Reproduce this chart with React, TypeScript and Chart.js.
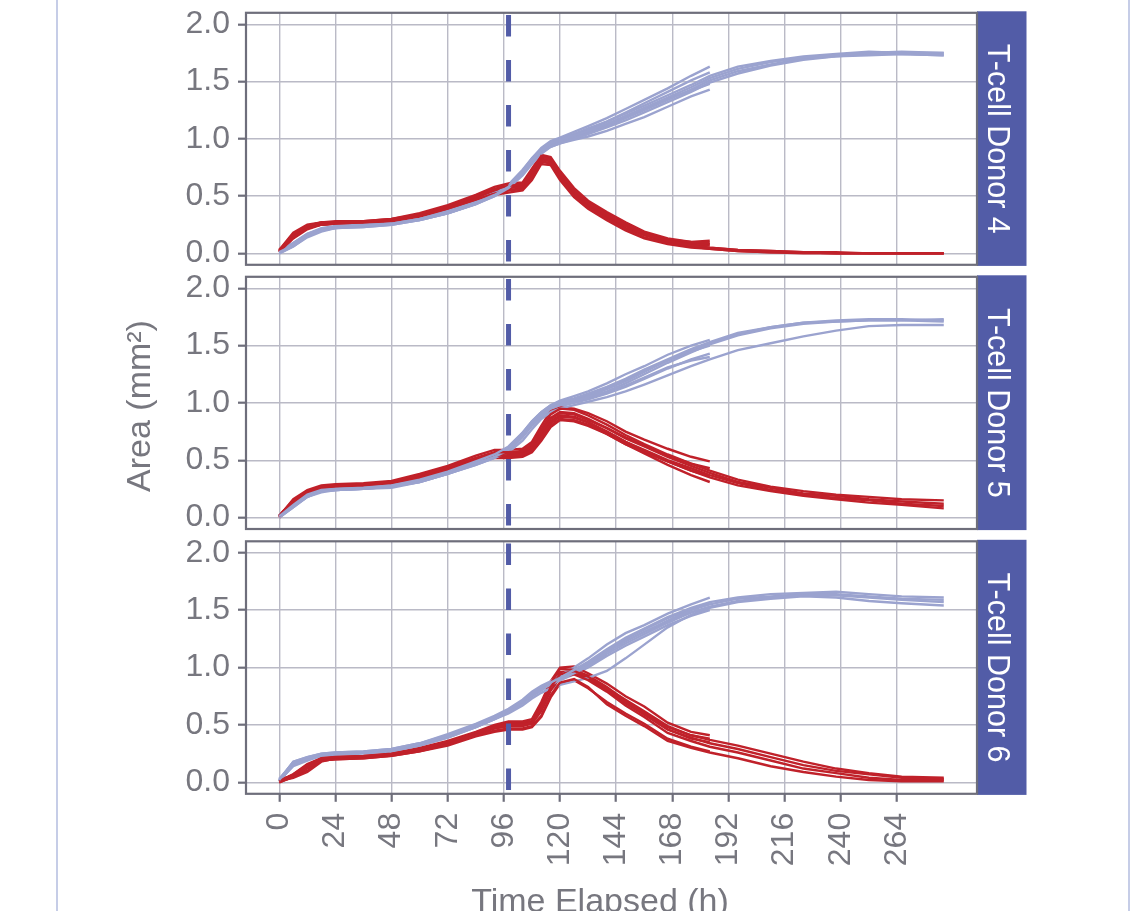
import React, { useEffect, useRef } from "react";
import { Chart, registerables } from "chart.js";

Chart.register(...registerables);

// ---------- data ----------
// sampling times (h); long tracks use all, short tracks stop at 184 h
const TIMES = [0, 6, 12, 18, 24, 36, 48, 60, 72, 84, 92, 98, 104, 108, 112, 116, 120, 126, 132, 140, 148, 156, 166, 176, 184, 196, 210, 224, 238, 252, 266, 284];
const X_TICKS = [0, 24, 48, 72, 96, 120, 144, 168, 192, 216, 240, 264];
const Y_TICKS = [0, 0.5, 1.0, 1.5, 2.0];
const VLINE_T = 98;
const PANEL_LABELS = ["T-cell Donor 4", "T-cell Donor 5", "T-cell Donor 6"];
const X_TITLE = "Time Elapsed (h)";
const Y_TITLE = "Area (mm\u00B2)";

// Donor 4 - red (with T cells)
const d4_red_1 = [0.02, 0.17, 0.24, 0.27, 0.28, 0.28, 0.30, 0.34, 0.41, 0.50, 0.56, 0.59, 0.60, 0.72, 0.85, 0.82, 0.70, 0.55, 0.44, 0.34, 0.25, 0.17, 0.11, 0.07, 0.05, 0.03, 0.02, 0.01, 0.01, 0.00, 0.00, 0.00];
const d4_red_2 = [0.01, 0.14, 0.22, 0.25, 0.26, 0.27, 0.28, 0.32, 0.39, 0.47, 0.52, 0.55, 0.56, 0.66, 0.80, 0.79, 0.66, 0.50, 0.40, 0.30, 0.21, 0.14, 0.09, 0.06, 0.04, 0.02, 0.01, 0.01, 0.00, 0.00, 0.00, 0.00];
const d4_red_3 = [0.03, 0.18, 0.25, 0.27, 0.27, 0.27, 0.29, 0.33, 0.40, 0.49, 0.55, 0.57, 0.58, 0.69, 0.84, 0.83, 0.69, 0.53, 0.43, 0.33, 0.24, 0.16, 0.10, 0.07, 0.05, 0.03, 0.02, 0.01, 0.00, 0.00, 0.00, 0.00];
const d4_red_4 = [0.02, 0.15, 0.23, 0.26, 0.27, 0.26, 0.28, 0.31, 0.38, 0.46, 0.51, 0.53, 0.55, 0.64, 0.78, 0.77, 0.64, 0.49, 0.39, 0.29, 0.20, 0.13, 0.08, 0.05, 0.04, 0.02, 0.01, 0.00, 0.00, 0.00, 0.00, 0.00];
const d4_red_s1 = [0.02, 0.16, 0.24, 0.27, 0.27, 0.28, 0.30, 0.35, 0.42, 0.51, 0.58, 0.61, 0.62, 0.74, 0.86, 0.84, 0.72, 0.57, 0.46, 0.36, 0.27, 0.19, 0.13, 0.10, 0.09];
const d4_red_s2 = [0.01, 0.13, 0.21, 0.25, 0.26, 0.26, 0.28, 0.32, 0.38, 0.46, 0.52, 0.55, 0.57, 0.68, 0.82, 0.81, 0.68, 0.52, 0.42, 0.32, 0.24, 0.17, 0.12, 0.10, 0.11];
const d4_red_s3 = [0.02, 0.17, 0.24, 0.26, 0.27, 0.27, 0.29, 0.34, 0.41, 0.49, 0.56, 0.60, 0.61, 0.71, 0.83, 0.80, 0.66, 0.51, 0.41, 0.31, 0.22, 0.16, 0.11, 0.08, 0.07];
const d4_red_s4 = [0.03, 0.15, 0.22, 0.25, 0.26, 0.27, 0.29, 0.33, 0.40, 0.48, 0.54, 0.58, 0.59, 0.70, 0.81, 0.78, 0.67, 0.54, 0.45, 0.35, 0.26, 0.18, 0.12, 0.09, 0.08];
// Donor 4 - blue (tumour only)
const d4_blue_1 = [0.01, 0.07, 0.15, 0.20, 0.22, 0.24, 0.26, 0.30, 0.36, 0.44, 0.51, 0.58, 0.71, 0.81, 0.90, 0.96, 0.99, 1.03, 1.07, 1.13, 1.20, 1.27, 1.36, 1.45, 1.53, 1.61, 1.67, 1.71, 1.73, 1.75, 1.76, 1.75];
const d4_blue_2 = [0.00, 0.06, 0.14, 0.19, 0.22, 0.23, 0.25, 0.29, 0.35, 0.43, 0.50, 0.57, 0.68, 0.78, 0.87, 0.93, 0.96, 1.00, 1.04, 1.10, 1.16, 1.23, 1.32, 1.41, 1.49, 1.57, 1.64, 1.69, 1.72, 1.73, 1.74, 1.73];
const d4_blue_3 = [0.02, 0.09, 0.17, 0.22, 0.24, 0.25, 0.27, 0.31, 0.37, 0.45, 0.52, 0.59, 0.72, 0.82, 0.91, 0.97, 1.00, 1.04, 1.09, 1.15, 1.22, 1.29, 1.38, 1.47, 1.55, 1.63, 1.68, 1.72, 1.74, 1.76, 1.75, 1.75];
const d4_blue_4 = [0.01, 0.08, 0.16, 0.21, 0.23, 0.24, 0.26, 0.30, 0.36, 0.44, 0.51, 0.58, 0.69, 0.79, 0.88, 0.94, 0.97, 1.01, 1.05, 1.11, 1.18, 1.25, 1.34, 1.43, 1.51, 1.59, 1.65, 1.70, 1.72, 1.74, 1.74, 1.73];
const d4_blue_s1 = [0.01, 0.07, 0.15, 0.20, 0.23, 0.24, 0.26, 0.30, 0.37, 0.45, 0.52, 0.59, 0.72, 0.83, 0.92, 0.98, 1.01, 1.06, 1.11, 1.18, 1.26, 1.34, 1.44, 1.55, 1.63];
const d4_blue_s2 = [0.00, 0.06, 0.15, 0.20, 0.22, 0.23, 0.25, 0.29, 0.35, 0.43, 0.50, 0.57, 0.69, 0.79, 0.88, 0.93, 0.96, 0.99, 1.02, 1.07, 1.13, 1.19, 1.28, 1.37, 1.43];
const d4_blue_s3 = [0.02, 0.09, 0.17, 0.21, 0.23, 0.25, 0.27, 0.31, 0.37, 0.46, 0.53, 0.60, 0.73, 0.83, 0.91, 0.96, 0.99, 1.04, 1.08, 1.15, 1.23, 1.31, 1.41, 1.51, 1.58];
const d4_blue_s4 = [0.01, 0.08, 0.16, 0.21, 0.23, 0.24, 0.26, 0.29, 0.35, 0.43, 0.51, 0.58, 0.70, 0.80, 0.89, 0.95, 0.98, 1.02, 1.06, 1.12, 1.19, 1.26, 1.35, 1.42, 1.48];

// Donor 5 - red
const d5_red_1 = [0.01, 0.15, 0.23, 0.27, 0.28, 0.29, 0.31, 0.37, 0.44, 0.52, 0.57, 0.57, 0.58, 0.64, 0.77, 0.90, 0.95, 0.94, 0.89, 0.81, 0.72, 0.64, 0.55, 0.47, 0.41, 0.33, 0.27, 0.23, 0.20, 0.18, 0.16, 0.15];
const d5_red_2 = [0.00, 0.12, 0.21, 0.26, 0.27, 0.28, 0.30, 0.35, 0.42, 0.50, 0.54, 0.54, 0.55, 0.59, 0.70, 0.82, 0.88, 0.87, 0.83, 0.75, 0.66, 0.59, 0.50, 0.43, 0.37, 0.30, 0.24, 0.20, 0.17, 0.15, 0.12, 0.10];
const d5_red_3 = [0.02, 0.14, 0.22, 0.27, 0.28, 0.29, 0.31, 0.36, 0.43, 0.51, 0.55, 0.56, 0.56, 0.62, 0.74, 0.86, 0.91, 0.90, 0.85, 0.78, 0.69, 0.62, 0.53, 0.45, 0.39, 0.31, 0.26, 0.21, 0.19, 0.16, 0.14, 0.12];
const d5_red_4 = [0.01, 0.13, 0.22, 0.26, 0.28, 0.28, 0.30, 0.35, 0.42, 0.49, 0.53, 0.53, 0.54, 0.58, 0.68, 0.80, 0.86, 0.85, 0.81, 0.73, 0.64, 0.57, 0.49, 0.41, 0.35, 0.28, 0.23, 0.19, 0.16, 0.13, 0.11, 0.08];
const d5_red_s1 = [0.01, 0.16, 0.24, 0.28, 0.29, 0.30, 0.32, 0.38, 0.45, 0.54, 0.59, 0.59, 0.60, 0.66, 0.80, 0.93, 0.96, 0.95, 0.91, 0.84, 0.75, 0.68, 0.60, 0.53, 0.49];
const d5_red_s2 = [0.00, 0.13, 0.21, 0.26, 0.27, 0.28, 0.29, 0.34, 0.41, 0.48, 0.52, 0.52, 0.53, 0.57, 0.67, 0.79, 0.85, 0.84, 0.80, 0.73, 0.64, 0.56, 0.46, 0.37, 0.31];
const d5_red_s3 = [0.02, 0.15, 0.23, 0.27, 0.28, 0.29, 0.31, 0.36, 0.43, 0.51, 0.56, 0.57, 0.57, 0.63, 0.75, 0.87, 0.92, 0.91, 0.86, 0.78, 0.70, 0.63, 0.54, 0.47, 0.43];
const d5_red_s4 = [0.01, 0.14, 0.22, 0.26, 0.27, 0.28, 0.30, 0.35, 0.42, 0.50, 0.54, 0.55, 0.55, 0.61, 0.72, 0.84, 0.89, 0.88, 0.83, 0.75, 0.66, 0.58, 0.49, 0.41, 0.36];
// Donor 5 - blue
const d5_blue_1 = [0.01, 0.11, 0.20, 0.24, 0.25, 0.26, 0.28, 0.33, 0.40, 0.49, 0.55, 0.62, 0.74, 0.84, 0.92, 0.98, 1.01, 1.04, 1.08, 1.14, 1.21, 1.29, 1.38, 1.47, 1.53, 1.61, 1.66, 1.70, 1.72, 1.73, 1.73, 1.72];
const d5_blue_2 = [0.00, 0.09, 0.18, 0.23, 0.24, 0.25, 0.27, 0.31, 0.38, 0.47, 0.53, 0.59, 0.71, 0.81, 0.89, 0.95, 0.98, 1.01, 1.05, 1.10, 1.17, 1.25, 1.35, 1.44, 1.51, 1.59, 1.65, 1.69, 1.71, 1.72, 1.72, 1.71];
const d5_blue_3 = [0.02, 0.11, 0.19, 0.23, 0.25, 0.26, 0.28, 0.32, 0.39, 0.48, 0.54, 0.60, 0.73, 0.83, 0.91, 0.97, 1.00, 1.03, 1.06, 1.12, 1.19, 1.27, 1.37, 1.46, 1.52, 1.60, 1.66, 1.70, 1.71, 1.72, 1.72, 1.73];
const d5_blue_4 = [0.01, 0.10, 0.18, 0.22, 0.24, 0.25, 0.26, 0.31, 0.38, 0.46, 0.52, 0.57, 0.67, 0.77, 0.86, 0.92, 0.95, 0.98, 1.01, 1.05, 1.10, 1.16, 1.24, 1.32, 1.38, 1.46, 1.52, 1.58, 1.63, 1.67, 1.68, 1.68];
const d5_blue_s1 = [0.01, 0.10, 0.19, 0.23, 0.25, 0.26, 0.27, 0.32, 0.39, 0.48, 0.54, 0.61, 0.74, 0.84, 0.92, 0.98, 1.02, 1.06, 1.10, 1.17, 1.25, 1.32, 1.42, 1.50, 1.55];
const d5_blue_s2 = [0.00, 0.09, 0.18, 0.23, 0.24, 0.25, 0.27, 0.31, 0.38, 0.46, 0.52, 0.58, 0.70, 0.80, 0.88, 0.94, 0.97, 1.00, 1.03, 1.08, 1.14, 1.21, 1.30, 1.38, 1.43];
const d5_blue_s3 = [0.02, 0.11, 0.20, 0.24, 0.25, 0.26, 0.28, 0.33, 0.40, 0.48, 0.55, 0.61, 0.73, 0.83, 0.90, 0.96, 0.99, 1.03, 1.07, 1.13, 1.20, 1.28, 1.37, 1.45, 1.50];
const d5_blue_s4 = [0.01, 0.10, 0.19, 0.23, 0.24, 0.25, 0.27, 0.32, 0.39, 0.47, 0.53, 0.59, 0.71, 0.81, 0.89, 0.95, 0.98, 1.01, 1.04, 1.09, 1.15, 1.22, 1.31, 1.37, 1.40];

// Donor 6 - red
const d6_red_1 = [0.01, 0.07, 0.15, 0.21, 0.22, 0.23, 0.25, 0.29, 0.35, 0.43, 0.48, 0.50, 0.50, 0.52, 0.64, 0.83, 0.94, 0.97, 0.92, 0.82, 0.70, 0.60, 0.46, 0.39, 0.34, 0.29, 0.22, 0.15, 0.10, 0.07, 0.04, 0.03];
const d6_red_2 = [0.00, 0.05, 0.13, 0.19, 0.20, 0.21, 0.23, 0.27, 0.33, 0.41, 0.45, 0.47, 0.47, 0.49, 0.58, 0.76, 0.87, 0.90, 0.83, 0.68, 0.58, 0.49, 0.36, 0.30, 0.26, 0.21, 0.14, 0.09, 0.05, 0.02, 0.01, 0.01];
const d6_red_3 = [0.02, 0.06, 0.14, 0.20, 0.21, 0.22, 0.24, 0.28, 0.34, 0.42, 0.47, 0.49, 0.49, 0.51, 0.62, 0.80, 0.91, 0.94, 0.89, 0.79, 0.67, 0.57, 0.43, 0.36, 0.31, 0.26, 0.19, 0.12, 0.08, 0.04, 0.02, 0.02];
const d6_red_4 = [0.01, 0.04, 0.09, 0.18, 0.21, 0.22, 0.24, 0.28, 0.34, 0.42, 0.47, 0.49, 0.50, 0.52, 0.66, 0.86, 0.99, 0.98, 0.93, 0.83, 0.71, 0.61, 0.48, 0.41, 0.37, 0.32, 0.25, 0.18, 0.12, 0.08, 0.05, 0.04];
const d6_red_s1 = [0.01, 0.07, 0.16, 0.21, 0.22, 0.23, 0.25, 0.30, 0.36, 0.44, 0.50, 0.53, 0.53, 0.55, 0.70, 0.88, 1.00, 1.01, 0.95, 0.86, 0.75, 0.66, 0.52, 0.44, 0.41];
const d6_red_s2 = [0.00, 0.05, 0.12, 0.19, 0.20, 0.21, 0.23, 0.27, 0.32, 0.40, 0.44, 0.46, 0.46, 0.48, 0.57, 0.74, 0.86, 0.89, 0.82, 0.70, 0.60, 0.51, 0.38, 0.31, 0.27];
const d6_red_s3 = [0.02, 0.06, 0.10, 0.19, 0.21, 0.22, 0.24, 0.28, 0.34, 0.43, 0.48, 0.51, 0.51, 0.53, 0.65, 0.82, 0.93, 0.95, 0.90, 0.80, 0.69, 0.59, 0.46, 0.38, 0.35];
const d6_red_s4 = [0.01, 0.06, 0.14, 0.20, 0.21, 0.22, 0.24, 0.29, 0.35, 0.43, 0.49, 0.52, 0.52, 0.53, 0.67, 0.85, 0.96, 0.97, 0.91, 0.82, 0.72, 0.62, 0.49, 0.41, 0.38];
// Donor 6 - blue
const d6_blue_1 = [0.02, 0.18, 0.22, 0.25, 0.26, 0.27, 0.29, 0.34, 0.41, 0.50, 0.57, 0.63, 0.71, 0.78, 0.83, 0.87, 0.91, 0.98, 1.05, 1.16, 1.26, 1.34, 1.44, 1.52, 1.57, 1.61, 1.64, 1.65, 1.66, 1.64, 1.62, 1.61];
const d6_blue_2 = [0.01, 0.15, 0.20, 0.24, 0.25, 0.26, 0.28, 0.33, 0.40, 0.48, 0.55, 0.61, 0.69, 0.76, 0.81, 0.85, 0.89, 0.95, 1.01, 1.12, 1.21, 1.29, 1.39, 1.48, 1.53, 1.58, 1.61, 1.63, 1.63, 1.61, 1.59, 1.57];
const d6_blue_3 = [0.03, 0.17, 0.21, 0.24, 0.25, 0.26, 0.28, 0.33, 0.40, 0.49, 0.56, 0.62, 0.70, 0.77, 0.82, 0.86, 0.90, 0.96, 1.03, 1.14, 1.23, 1.31, 1.41, 1.50, 1.55, 1.60, 1.62, 1.64, 1.64, 1.62, 1.60, 1.59];
const d6_blue_4 = [0.02, 0.14, 0.19, 0.23, 0.24, 0.25, 0.27, 0.32, 0.39, 0.48, 0.55, 0.60, 0.67, 0.73, 0.78, 0.82, 0.85, 0.88, 0.91, 0.97, 1.08, 1.20, 1.35, 1.46, 1.52, 1.57, 1.60, 1.62, 1.61, 1.58, 1.56, 1.54];
const d6_blue_s1 = [0.02, 0.18, 0.22, 0.25, 0.26, 0.27, 0.29, 0.34, 0.42, 0.51, 0.58, 0.64, 0.72, 0.79, 0.84, 0.88, 0.93, 1.00, 1.08, 1.20, 1.30, 1.37, 1.47, 1.55, 1.61];
const d6_blue_s2 = [0.01, 0.16, 0.20, 0.24, 0.25, 0.26, 0.28, 0.33, 0.40, 0.49, 0.56, 0.62, 0.70, 0.76, 0.81, 0.86, 0.90, 0.96, 1.03, 1.14, 1.23, 1.31, 1.40, 1.48, 1.52];
const d6_blue_s3 = [0.02, 0.17, 0.21, 0.24, 0.25, 0.26, 0.28, 0.33, 0.41, 0.50, 0.57, 0.63, 0.71, 0.77, 0.83, 0.87, 0.91, 0.97, 1.04, 1.15, 1.25, 1.33, 1.43, 1.51, 1.56];
const d6_blue_s4 = [0.01, 0.15, 0.20, 0.23, 0.25, 0.26, 0.27, 0.32, 0.39, 0.48, 0.55, 0.61, 0.69, 0.75, 0.80, 0.85, 0.89, 0.94, 1.00, 1.10, 1.19, 1.27, 1.37, 1.45, 1.50];

const RED_TRACKS = [
  [d4_red_1, d4_red_2, d4_red_3, d4_red_4, d4_red_s1, d4_red_s2, d4_red_s3, d4_red_s4],
  [d5_red_1, d5_red_2, d5_red_3, d5_red_4, d5_red_s1, d5_red_s2, d5_red_s3, d5_red_s4],
  [d6_red_1, d6_red_2, d6_red_3, d6_red_4, d6_red_s1, d6_red_s2, d6_red_s3, d6_red_s4],
];
const BLUE_TRACKS = [
  [d4_blue_1, d4_blue_2, d4_blue_3, d4_blue_4, d4_blue_s1, d4_blue_s2, d4_blue_s3, d4_blue_s4],
  [d5_blue_1, d5_blue_2, d5_blue_3, d5_blue_4, d5_blue_s1, d5_blue_s2, d5_blue_s3, d5_blue_s4],
  [d6_blue_1, d6_blue_2, d6_blue_3, d6_blue_4, d6_blue_s1, d6_blue_s2, d6_blue_s3, d6_blue_s4],
];

// ---------- style / layout ----------
const FONT = "'Liberation Sans', Arial, Helvetica, sans-serif";
const RED = "#c0212a";
const BLUE = "#9ba3cf";
const STRIP = "#525ca7";
const BORDER = "#6e6e7b";
const GRID = "#babac6";
const TEXT = "#77777f";
const FRAME = "#c6cde7";

const X_MIN = -14.2;
const X_MAX = 298.2;
const Y_MIN = -0.1;
const Y_MAX = 2.1;
const AREA_LEFT = 246;
const AREA_RIGHT = 977;
const W = 1142;

const LAYOUT = [
  { top: 0, height: 271, areaTop: 12.8, areaBottom: 264.8 },
  { top: 271, height: 264, areaTop: 276.8, areaBottom: 529.0 },
  { top: 535, height: 376, areaTop: 541.3, areaBottom: 793.8 },
];

function series(vals: number[], color: string) {
  return {
    data: vals.map((v, i) => ({ x: TIMES[i], y: v })),
    borderColor: color,
    backgroundColor: color,
    borderWidth: 2.4,
    pointRadius: 0,
    tension: 0,
    fill: false,
  };
}

function buildDatasets(idx: number) {
  const reds = RED_TRACKS[idx];
  const blues = BLUE_TRACKS[idx];
  const out: any[] = [];
  for (let i = 0; i < Math.max(reds.length, blues.length); i++) {
    if (blues[i]) out.push(series(blues[i], BLUE));
    if (reds[i]) out.push(series(reds[i], RED));
  }
  return out;
}

function decorPlugin(idx: number) {
  const lay = LAYOUT[idx];
  return {
    id: "decor" + idx,
    afterDatasetsDraw(chart: any) {
      const { ctx, chartArea: a } = chart;
      const x = chart.scales.x.getPixelForValue(VLINE_T);
      ctx.save();
      ctx.strokeStyle = STRIP;
      ctx.lineWidth = 5;
      ctx.setLineDash([21.5, 23.5]);
      ctx.beginPath();
      ctx.moveTo(x, a.top + 2.2);
      ctx.lineTo(x, a.bottom);
      ctx.stroke();
      ctx.restore();
    },
    afterDraw(chart: any) {
      const { ctx, chartArea: a } = chart;
      ctx.save();
      // facet strip
      ctx.fillStyle = STRIP;
      ctx.fillRect(a.right, a.top - 1.5, 49.5, a.bottom - a.top + 2.6);
      // panel border
      ctx.strokeStyle = BORDER;
      ctx.lineWidth = 2.2;
      ctx.strokeRect(a.left, a.top, a.right - a.left, a.bottom - a.top);
      // strip text
      ctx.save();
      ctx.fillStyle = "#ffffff";
      ctx.font = `30.5px ${FONT}`;
      ctx.textAlign = "center";
      ctx.textBaseline = "alphabetic";
      ctx.translate(a.right + 11.3, (a.top + a.bottom) / 2);
      ctx.rotate(Math.PI / 2);
      ctx.fillText(PANEL_LABELS[idx], 0, 0);
      ctx.restore();
      // axis titles
      ctx.fillStyle = TEXT;
      ctx.font = `34px ${FONT}`;
      ctx.textAlign = "center";
      ctx.textBaseline = "alphabetic";
      if (idx === 1) {
        ctx.save();
        ctx.translate(149.5, 406 - lay.top);
        ctx.rotate(-Math.PI / 2);
        ctx.fillText(Y_TITLE, 0, 0);
        ctx.restore();
      }
      if (idx === 2) {
        ctx.fillText(X_TITLE, 600, 912.3 - lay.top);
      }
      ctx.restore();
    },
  };
}

function makeConfig(idx: number): any {
  const lay = LAYOUT[idx];
  const showX = idx === 2;
  const xAxisH = showX ? lay.height - (lay.areaBottom - lay.top) : 0;
  return {
    type: "line",
    data: { datasets: buildDatasets(idx) },
    options: {
      responsive: false,
      animation: false,
      events: [],
      layout: {
        padding: {
          left: 0,
          right: W - AREA_RIGHT,
          top: lay.areaTop - lay.top,
          bottom: showX ? 0 : lay.top + lay.height - lay.areaBottom,
        },
      },
      plugins: { legend: { display: false }, tooltip: { enabled: false }, title: { display: false } },
      scales: {
        x: {
          type: "linear",
          min: X_MIN,
          max: X_MAX,
          afterBuildTicks: (s: any) => {
            s.ticks = X_TICKS.map((v) => ({ value: v }));
          },
          afterFit: (s: any) => {
            s.height = xAxisH;
            s.paddingLeft = 0;
            s.paddingRight = 0;
          },
          border: { display: false },
          grid: {
            color: GRID,
            lineWidth: 1.4,
            drawTicks: showX,
            tickLength: 8,
            tickColor: BORDER,
            tickWidth: 2.2,
          },
          ticks: {
            display: showX,
            autoSkip: false,
            minRotation: 90,
            maxRotation: 90,
            color: TEXT,
            font: { family: FONT, size: 32 },
            padding: 11,
            callback: (v: any) => String(v),
          },
        },
        y: {
          type: "linear",
          min: Y_MIN,
          max: Y_MAX,
          afterBuildTicks: (s: any) => {
            s.ticks = Y_TICKS.map((v) => ({ value: v }));
          },
          afterFit: (s: any) => {
            s.width = AREA_LEFT;
            s.paddingTop = 0;
            s.paddingBottom = 0;
          },
          border: { display: false },
          grid: {
            color: GRID,
            lineWidth: 1.4,
            drawTicks: true,
            tickLength: 8,
            tickColor: BORDER,
            tickWidth: 2.2,
          },
          ticks: {
            color: TEXT,
            font: { family: FONT, size: 32 },
            padding: 8,
            callback: (v: any) => Number(v).toFixed(1),
          },
        },
      },
    },
    plugins: [decorPlugin(idx)],
  };
}

export default function App() {
  const r0 = useRef<HTMLCanvasElement>(null);
  const r1 = useRef<HTMLCanvasElement>(null);
  const r2 = useRef<HTMLCanvasElement>(null);
  const refs = [r0, r1, r2];

  useEffect(() => {
    document.body.style.margin = "0";
    const charts = refs.map((r, i) => new Chart(r.current as HTMLCanvasElement, makeConfig(i)));
    return () => charts.forEach((c) => c.destroy());
  }, []);

  return (
    <div style={{ position: "absolute", left: 0, top: 0, width: W, height: 911, overflow: "hidden", background: "#ffffff" }}>
      <div
        style={{
          position: "absolute",
          left: 56,
          top: -4,
          width: 1073.5,
          height: 920,
          boxSizing: "border-box",
          borderLeft: `2px solid ${FRAME}`,
          borderRight: `2px solid ${FRAME}`,
        }}
      />
      {LAYOUT.map((l, i) => (
        <canvas
          key={i}
          ref={refs[i]}
          width={W}
          height={l.height}
          style={{ position: "absolute", left: 0, top: l.top, width: W, height: l.height, display: "block" }}
        />
      ))}
    </div>
  );
}
